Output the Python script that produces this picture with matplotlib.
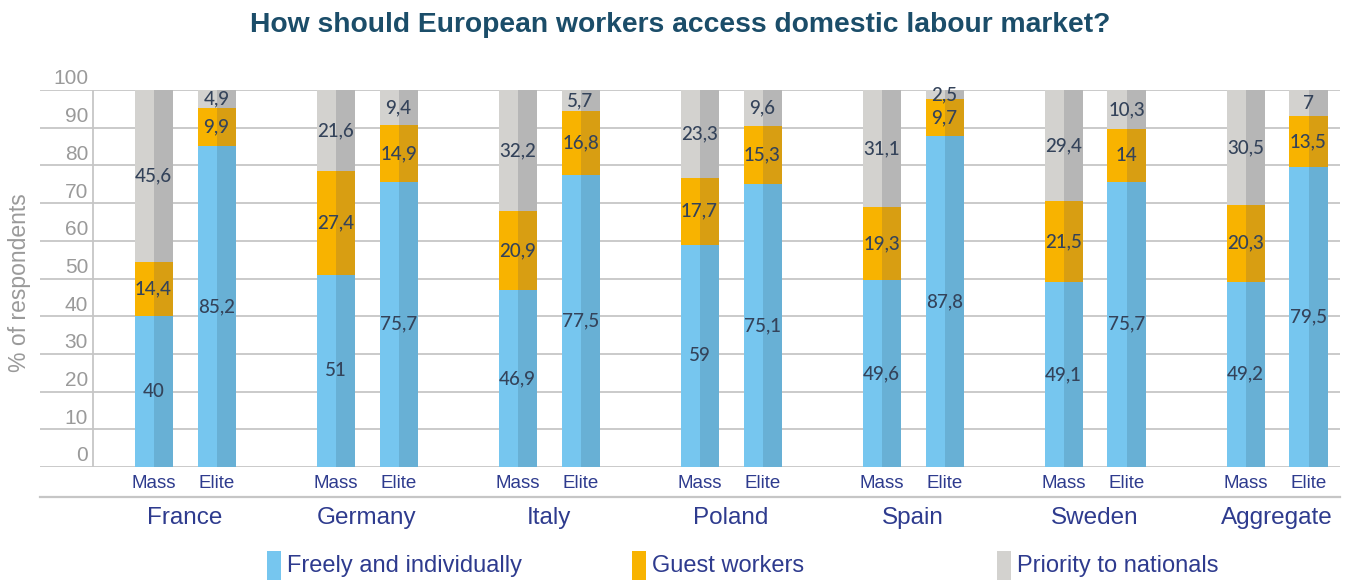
import matplotlib
matplotlib.use("Agg")
from matplotlib import pyplot as plt
from matplotlib.patches import Rectangle

# survey shares (% of respondents), mass public vs elites
countries = ["France", "Germany", "Italy", "Poland", "Spain", "Sweden", "Aggregate"]
groups = ["Mass", "Elite"]
freely_mass = [40, 51, 46.9, 59, 49.6, 49.1, 49.2]
freely_elite = [85.2, 75.7, 77.5, 75.1, 87.8, 75.7, 79.5]
guest_mass = [14.4, 27.4, 20.9, 17.7, 19.3, 21.5, 20.3]
guest_elite = [9.9, 14.9, 16.8, 15.3, 9.7, 14, 13.5]
priority_mass = [45.6, 21.6, 32.2, 23.3, 31.1, 29.4, 30.5]
priority_elite = [4.9, 9.4, 5.7, 9.6, 2.5, 10.3, 7]
series_names = ["Freely and individually", "Guest workers", "Priority to nationals"]
yticks = list(range(0, 101, 10))

# (light half, dark half) for each series
colors = [("#76c6ef", "#68b0d5"), ("#f8b300", "#d89e12"), ("#d3d2cf", "#b6b6b6")]
legend_colors = ["#76c6ef", "#f8b300", "#d3d2cf"]

navy = "#2e3b8e"
num_col = "#34435a"
grid_col = "#c6c6c6"
tick_col = "#9a9a9a"

plt.rcParams["font.family"] = ["Liberation Sans", "DejaVu Sans"]

fig = plt.figure(figsize=(13.65, 5.8), dpi=100)
ax = fig.add_axes([40 / 1365, 113 / 580, 1300 / 1365, 377 / 580])
ax.set_xlim(-0.797, 6.346)
ax.set_ylim(0, 100)
ax.axis("off")

for v in yticks:
    ax.axhline(v, color=grid_col, lw=1.3, zorder=0)
    ax.text(-0.533, v + 0.4, str(v), ha="right", va="bottom",
            fontsize=15, color=tick_col)
ax.axvline(-0.505, color=grid_col, lw=1.3, zorder=0)
ax.axhline(-8, color=grid_col, lw=1.6, clip_on=False)

ax.text(-0.912, 49, "% of respondents", rotation=90, ha="center", va="center",
        fontsize=16.5, color=tick_col, clip_on=False)

width = 0.209
offsets = [-0.173, 0.173]
mass = [freely_mass, guest_mass, priority_mass]
elite = [freely_elite, guest_elite, priority_elite]


def fmt(v):
    return f"{v:g}".replace(".", ",")


for i, country in enumerate(countries):
    for off, gname, data in zip(offsets, groups, [mass, elite]):
        xc = i + off
        bottom = 0
        for s, vals in enumerate(data):
            v = vals[i]
            light, dark = colors[s]
            ax.bar(xc - width / 2, v, width / 2, bottom=bottom, align="edge",
                   color=light, lw=0, zorder=2)
            ax.bar(xc, v, width / 2, bottom=bottom, align="edge",
                   color=dark, lw=0, zorder=2)
            ax.text(xc, bottom + v / 2, fmt(v), ha="center", va="center",
                    fontsize=13.5, color=num_col, family=["Lato", "DejaVu Sans"],
                    fontweight="medium", zorder=3)
            bottom += v
        ax.text(xc, -4.4, gname, ha="center", va="center", fontsize=13.5,
                color=navy, clip_on=False)
    ax.text(i, -13.6, country, ha="center", va="center", fontsize=17.5,
            color=navy, clip_on=False)

fig.text(680 / 1365, 1 - 25 / 580,
         "How should European workers access domestic labour market?",
         ha="center", va="center", fontsize=20.3, fontweight="bold",
         color="#1b4d69")

# legend row along the bottom
for k, name in enumerate(series_names):
    x0 = 267 + 365 * k
    fig.patches.append(Rectangle((x0 / 1365, 0), 14 / 1365, 29 / 580,
                                 transform=fig.transFigure,
                                 color=legend_colors[k], lw=0))
    fig.text((x0 + 20) / 1365, 1 - 566 / 580, name, ha="left", va="center",
             fontsize=17, color=navy)

fig.savefig("out.png", dpi=100)
